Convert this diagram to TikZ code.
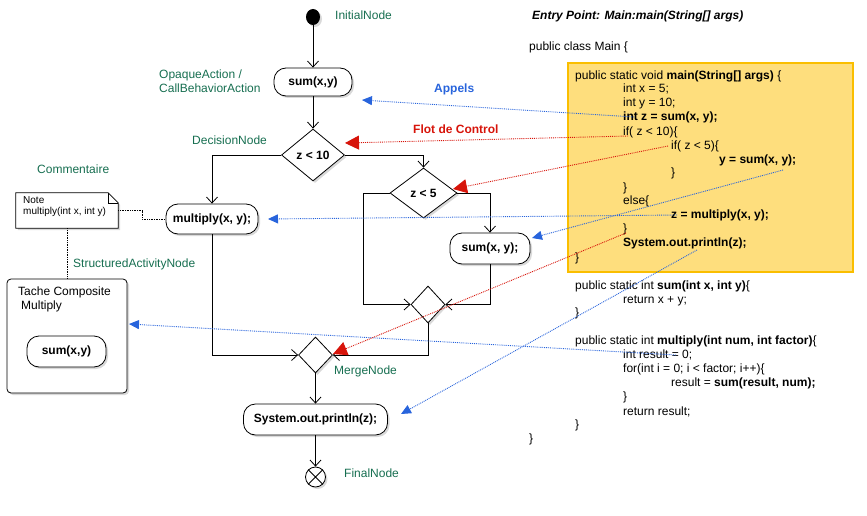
\documentclass[tikz,border=0pt]{standalone}
\usepackage{fontspec}
\setmainfont{Liberation Sans}
\usetikzlibrary{arrows.meta,shapes.geometric,shadows,calc}
\definecolor{lblgreen}{RGB}{22,110,80}
\definecolor{appblue}{RGB}{40,100,220}
\definecolor{flotred}{RGB}{215,20,10}
\definecolor{codefill}{RGB}{254,222,125}
\definecolor{codeedge}{RGB}{250,190,0}
\begin{document}
\begin{tikzpicture}[x=1pt,y=-1pt,
  every node/.style={font=\fontsize{12}{14}\selectfont},
  shad/.style={drop shadow={shadow xshift=2pt,shadow yshift=-2pt,opacity=0.3}},
  flow/.style={draw=black,line width=0.8pt,-{Straight Barb[length=6pt,width=11pt]}},
  act/.style={draw,line width=0.8pt,rounded corners=12pt,fill=white,inner sep=0,
    font=\bfseries\fontsize{12}{14}\selectfont,shad},
  dia/.style={diamond,draw,line width=0.8pt,fill=white,inner sep=0,
    font=\bfseries\fontsize{12}{14}\selectfont,shad},
  lbl/.style={text=lblgreen,anchor=west,inner sep=0},
  code/.style={anchor=west,inner sep=0,text height=9pt,text depth=2.5pt},
  callarr/.style={draw=appblue,line width=0.9pt,densely dotted,-{Triangle[length=10pt,width=9pt]}},
  ctrlarr/.style={draw=flotred,line width=0.9pt,densely dotted,-{Triangle[length=14pt,width=14pt]}},
  notelink/.style={draw=black,line width=0.7pt,densely dotted}
]
\useasboundingbox (0,0) rectangle (867,516);

% ---------- activity diagram ----------
\node[ellipse,fill=black,minimum width=14pt,minimum height=16pt,inner sep=0,shad] (init) at (313,17) {};
\node[act,minimum width=78pt,minimum height=28pt] (sum1) at (313,82) {sum(x,y)};
\node[dia,minimum width=63pt,minimum height=52pt] (dec1) at (313,155) {z < 10};
\node[act,minimum width=92pt,minimum height=30pt] (mult) at (212,219) {multiply(x, y);};
\node[dia,minimum width=67pt,minimum height=50pt] (dec2) at (423.5,193) {z < 5};
\node[act,minimum width=80pt,minimum height=31pt] (sum2) at (490,248.5) {sum(x, y);};
\node[dia,minimum width=34pt,minimum height=37pt] (merge1) at (428,304.5) {};
\node[dia,minimum width=34pt,minimum height=36pt] (merge2) at (315.5,355) {};
\node[act,minimum width=144pt,minimum height=31pt] (sys) at (315.5,419.5) {System.out.println(z);};
\node[circle,draw,line width=0.8pt,fill=white,minimum size=20pt,inner sep=0,shad] (final) at (315.5,477) {};
\draw[line width=0.8pt] (final.north east) -- (final.south west) (final.north west) -- (final.south east);

\draw[flow] (init) -- (sum1);
\draw[flow] (sum1) -- (dec1);
\draw[flow] (dec1.west) -| (mult.north);
\draw[flow] (dec1.east) -| (dec2.north);
\draw[flow] (dec2.east) -| (sum2.north);
\draw[flow] (dec2.west) -- ++(-26,0) |- (merge1.west);
\draw[flow] (sum2.south) |- (merge1.east);
\draw[flow] (merge1.south) |- (merge2.east);
\draw[flow] (mult.south) |- (merge2.west);
\draw[flow] (merge2) -- (sys);
\draw[flow] (sys) -- (final);

% ---------- note and structured node ----------
\node[minimum width=102pt,minimum height=35pt,inner sep=0] (note) at (67,210.5) {};
\draw[line width=0.7pt,fill=white,shad] (note.north west) -- ($(note.north east)+(-10,0)$) -- ($(note.north east)+(0,10)$) -- (note.south east) -- (note.south west) -- cycle;
\draw[line width=0.6pt] ($(note.north east)+(-10,0)$) -- ($(note.north east)+(-10,10)$) -- ($(note.north east)+(0,10)$);
\node[anchor=north west,inner sep=0,align=left,font=\fontsize{10}{11}\selectfont] (notetext) at (23,196) {Note\\multiply(int x, int y)};

\node[draw,line width=0.8pt,rounded corners=4pt,fill=white,minimum width=120pt,minimum height=114pt,shad] (struct) at (67,336) {};
\node[anchor=north west,inner sep=0,align=left] (structtitle) at (18,287) {Tache Composite\\\hspace*{3pt}Multiply};
\node[act,minimum width=79pt,minimum height=31pt] (innersum) at (66.5,351.5) {sum(x,y)};

\draw[notelink] (note.east) -- ++(24,0) |- (mult.west);
\draw[notelink] (note.south) -- (struct.north);

% ---------- labels ----------
\node[lbl] (lInit) at (335,15) {InitialNode};
\node[lbl,align=left] (lOpaque) at (159,81) {OpaqueAction /\\CallBehaviorAction};
\node[lbl] (lDec) at (192,140) {DecisionNode};
\node[lbl] (lComm) at (37,169) {Commentaire};
\node[lbl] (lStruct) at (73,264) {StructuredActivityNode};
\node[lbl] (lMerge) at (334,371) {MergeNode};
\node[lbl] (lFinal) at (344,473) {FinalNode};
\node[anchor=west,inner sep=0,text=appblue,font=\bfseries\fontsize{12}{14}\selectfont] (lAppels) at (434,89) {Appels};
\node[anchor=west,inner sep=0,text=flotred,font=\bfseries\fontsize{12}{14}\selectfont] (lFlot) at (413,129) {Flot de Control};

% ---------- code ----------
\node[draw=codeedge,line width=2pt,fill=codefill,minimum width=285pt,minimum height=209pt,inner sep=0] (codebox) at (710.5,167.5) {};
\node[code] (entry) at (532,16) {\bfseries\itshape Entry Point: Main:main(String[] args)};
\node[code] (c0) at (529,47) {public class Main \{};
\node[code] (c1) at (575,76) {public static void \textbf{main(String[] args)} \{};
\node[code] (c2) at (623,89) {int x = 5;};
\node[code] (c3) at (623,103) {int y = 10;};
\node[code] (c4) at (623,117) {\textbf{int z = sum(x, y);}};
\node[code] (c5) at (623,132) {if( z < 10)\{};
\node[code] (c6) at (671,146) {if( z < 5)\{};
\node[code] (c7) at (719,160) {\textbf{y = sum(x, y);}};
\node[code] (c8) at (671,173) {\}};
\node[code] (c9) at (623,188) {\}};
\node[code] (c10) at (623,201) {else\{};
\node[code] (c11) at (671,215) {\textbf{z = multiply(x, y);}};
\node[code] (c12) at (623,229) {\}};
\node[code] (c13) at (623,243) {\textbf{System.out.println(z);}};
\node[code] (c14) at (575,258) {\}};
\node[code] (c15) at (575,286) {public static int \textbf{sum(int x, int y)}\{};
\node[code] (c16) at (623,300) {return x + y;};
\node[code] (c17) at (575,313) {\}};
\node[code] (c18) at (575,341) {public static int \textbf{multiply(int num, int factor)}\{};
\node[code] (c19) at (623,355) {int result = 0;};
\node[code] (c20) at (623,369) {for(int i = 0; i < factor; i++)\{};
\node[code] (c21) at (671,383) {result = \textbf{sum(result, num);}};
\node[code] (c22) at (623,397) {\}};
\node[code] (c23) at (623,412) {return result;};
\node[code] (c24) at (575,425) {\}};
\node[code] (c25) at (529,439) {\}};

% ---------- call / control connectors ----------
\coordinate (sB1) at (634,117);  \coordinate (tB1) at (362,100);
\coordinate (sB2) at (677,215);  \coordinate (tB2) at (268,219);
\coordinate (sB3) at (783,170);  \coordinate (tB3) at (532,238);
\coordinate (sB4) at (697,250);  \coordinate (tB4) at (401,414);
\coordinate (sB5) at (676,355);  \coordinate (tB5) at (129,324);
\coordinate (sR1) at (628,136);  \coordinate (tR1) at (345,143);
\coordinate (sR2) at (668,146);  \coordinate (tR2) at (453,189);
\coordinate (sR3) at (626,233);  \coordinate (tR3) at (333,354);

\draw[callarr] (sB1) -- (tB1);
\draw[callarr] (sB2) -- (tB2);
\draw[callarr] (sB3) -- (tB3);
\draw[callarr] (sB4) -- (tB4);
\draw[callarr] (sB5) -- (tB5);
\draw[ctrlarr] (sR1) -- (tR1);
\draw[ctrlarr] (sR2) -- (tR2);
\draw[ctrlarr] (sR3) -- (tR3);
\end{tikzpicture}
\end{document}
